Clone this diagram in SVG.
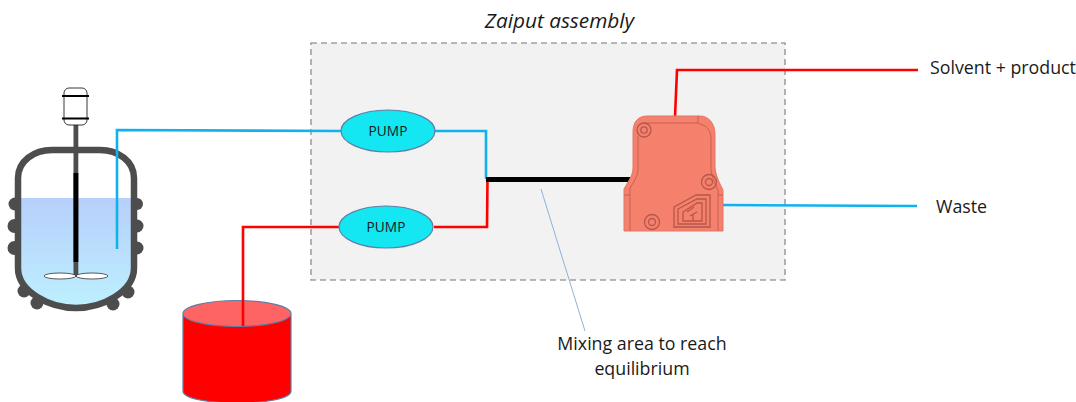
<svg xmlns="http://www.w3.org/2000/svg" width="1076" height="402" viewBox="0 0 1076 402">
<style>
text{font-family:"Open Sans","Noto Sans","Liberation Sans",sans-serif;fill:#1a1a1a}
.lbl{font-size:17.800px}
.c{fill:none;stroke-width:2.600;stroke-linejoin:miter}
.blue{stroke:#10b2ee}
.red{stroke:#ff0000}
.pump{fill:#14e6f2;stroke:#5f7fa8;stroke-width:1.200}
.ring{fill:none;stroke:#b5574a;stroke-width:1.300}
.jacket{fill:#4d4d4d}
</style>
<defs>
<linearGradient id="liq" x1="0" y1="0" x2="0" y2="1"><stop offset="0" stop-color="#b7cffb"/><stop offset="1" stop-color="#bdf0ff"/></linearGradient>
</defs>
<rect width="1076" height="402" fill="#fff"/>
<g id="zaiput-assembly">
<rect x="311" y="43" width="474" height="237" fill="#f2f2f2" stroke="#a0a0a0" stroke-width="1.600" stroke-dasharray="6 4"/>
<text x="559.500" y="28" text-anchor="middle" font-size="20.800" font-style="italic">Zaiput assembly</text>
</g>
<g id="reactor">
<g class="jacket">
<circle cx="15" cy="204" r="6.500"/><circle cx="14.500" cy="226" r="7"/><circle cx="14.500" cy="248" r="7"/>
<circle cx="137" cy="204" r="6"/><circle cx="137" cy="226" r="6.500"/><circle cx="137" cy="248" r="6.500"/>
<circle cx="24" cy="291" r="6.500"/><circle cx="37" cy="303" r="6.500"/><circle cx="113" cy="304" r="6.500"/><circle cx="128" cy="292" r="6.500"/>
</g>
<path d="M18 198H134V268C134 292 102 308 76 308C50 308 18 292 18 268Z" fill="url(#liq)"/>
<path d="M18 268V178C18 161 34 150 52 150H100C118 150 134 161 134 178V268C134 292 102 308 76 308C50 308 18 292 18 268Z" fill="none" stroke="#4d4d4d" stroke-width="6.500"/>
<rect x="73.500" y="125" width="4.800" height="152" fill="#4d4d4d"/>
<rect x="73.500" y="173" width="4.800" height="89" fill="#000"/>
<ellipse cx="60" cy="276" rx="16" ry="3" fill="#fff" stroke="#333" stroke-width="0.800"/>
<ellipse cx="92" cy="276" rx="16" ry="3" fill="#fff" stroke="#333" stroke-width="0.800"/>
<rect x="64" y="88" width="23" height="37" rx="5" fill="#fff" stroke="#222" stroke-width="0.900"/>
<path d="M62 96H89M62 118.500H89" stroke="#000" stroke-width="2.200" fill="none"/>
</g>
<g id="tank">
<path d="M183 315V391C183 407 291 407 291 391V315Z" fill="#ff0000" stroke="#5f7fa8" stroke-width="1.200"/>
<ellipse cx="237" cy="313.500" rx="54" ry="13" fill="#ff6464" stroke="#5f7fa8" stroke-width="1.200"/>
</g>
<g id="connectors">
<path class="c blue" d="M117 249V130L341 131"/>
<path class="c blue" d="M435 131H486V179"/>
<path class="c red" d="M243 326V227H340"/>
<path class="c red" d="M434 227H487L487.500 179"/>
<path d="M486 179.500H630" fill="none" stroke="#000" stroke-width="5"/>
<path class="c red" d="M675 117L677 70H918"/>
<path class="c blue" d="M722 205L917 206"/>
<path d="M541 189L585 331" fill="none" stroke="#8fb2d6" stroke-width="1"/>
</g>
<g id="pump-1">
<ellipse cx="388" cy="131" rx="47" ry="21" class="pump"/>
<text x="388" y="136" text-anchor="middle" font-size="13.700">PUMP</text>
</g>
<g id="pump-2">
<ellipse cx="386" cy="227" rx="47" ry="21" class="pump"/>
<text x="386" y="232" text-anchor="middle" font-size="13.700">PUMP</text>
</g>
<g id="separator">
<path d="M647 116H700C709 116 715 124 715 134V166C715 174 719 182 723 190V231H624V189C627 183 633 176 633 168V132C633 122 638 116 647 116Z" fill="#f5806c" stroke="#e0796a" stroke-width="1"/>
<path d="M638 136V170C637 178 633 183 630 188M645 123H698M698 116V123L705 126C709 129 711 133 711 140V170C712 178 716 186 718 190M630 188V231M718 190V231M624 195H630M718 195H723" fill="none" stroke="#b5574a" stroke-width="1" opacity="0.75"/>
<circle cx="644" cy="130" r="7" class="ring"/><circle cx="644" cy="130" r="3.200" class="ring"/>
<circle cx="709" cy="182" r="7.500" class="ring"/><circle cx="709" cy="182" r="3.500" class="ring"/>
<circle cx="652" cy="222" r="7.500" class="ring"/><circle cx="652" cy="222" r="3.500" class="ring"/>
<path d="M674 207L696 195H710V227H674Z" class="ring"/>
<path d="M678 209L697 199H706V224H678Z" class="ring"/>
<path d="M683 212L697 203H702V221H683Z" class="ring"/>
<path d="M687 212L694 207M690 216L697 212M693 221V214" class="ring"/>
</g>
<g id="labels">
<text x="930" y="74" class="lbl">Solvent + product</text>
<text x="936" y="213" class="lbl">Waste</text>
<text x="642" y="350" class="lbl" text-anchor="middle">Mixing area to reach</text>
<text x="642" y="375" class="lbl" text-anchor="middle">equilibrium</text>
</g>
</svg>
